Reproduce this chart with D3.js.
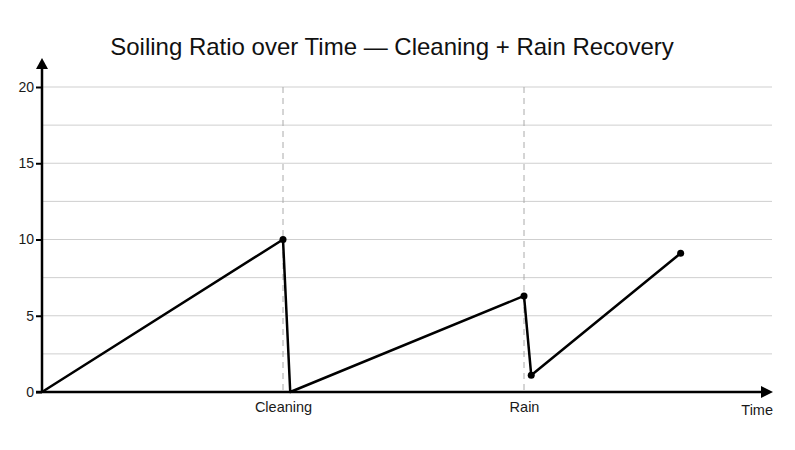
<!DOCTYPE html>
<html><head><meta charset="utf-8">
<script src="https://cdn.jsdelivr.net/npm/d3@7"></script>
<style>body{margin:0;background:#fff}svg{display:block}text{font-family:"Liberation Sans",Arial,sans-serif}</style>
</head><body><svg id="c" width="795" height="450"></svg>
<script>
const times = [0, 10, 10.3, 20, 20.3, 26.5];
const ratios = [0, 10, 0, 6.3, 1.1, 9.1];
const markedIdx = [1, 3, 4, 5];
const events = [{t:10, label:"Cleaning"}, {t:20, label:"Rain"}];
const yTicks = [0, 5, 10, 15, 20];
const yGrid = [2.5, 5, 7.5, 10, 12.5, 15, 17.5, 20];
const title = "Soiling Ratio over Time — Cleaning + Rain Recovery";

const svg = d3.select("#c");
const x = d3.scaleLinear().domain([0, 30]).range([42, 765]);
const y = d3.scaleLinear().domain([0, 20]).range([392, 87]);
const data = times.map((t,i)=>({t, v: ratios[i]}));

// grid
svg.append("g").selectAll("line").data(yGrid).join("line")
  .attr("x1", 42).attr("x2", 772).attr("y1", d=>y(d)).attr("y2", d=>y(d))
  .attr("stroke", "#cfcfcf").attr("stroke-width", 1);

// event dashed lines
svg.append("g").selectAll("line").data(events).join("line")
  .attr("x1", d=>x(d.t)).attr("x2", d=>x(d.t)).attr("y1", y(20)).attr("y2", y(0))
  .attr("stroke", "#aaa").attr("stroke-width", 1).attr("stroke-dasharray", "6,5");

// y axis
const yAxis = d3.axisLeft(y).tickValues(yTicks).tickSize(6).tickFormat(d3.format("d"));
const gy = svg.append("g").attr("transform", "translate(42,0)").call(yAxis);
gy.select(".domain").remove();
gy.selectAll(".tick line").attr("stroke", "#000").attr("stroke-width", 2);
gy.selectAll(".tick text").attr("font-size", 14).attr("fill", "#1a1a1a").attr("x", -8);

// x axis labels
const gx = svg.append("g").attr("transform", `translate(0,${y(0)})`)
  .call(d3.axisBottom(x).tickValues(events.map(e=>e.t)).tickSize(0)
    .tickFormat((d,i)=>events[i].label));
gx.select(".domain").remove();
gx.selectAll(".tick text").attr("font-size", 14.5).attr("fill", "#1a1a1a").attr("dy", "1.2em");

// axis lines with arrows
svg.append("line").attr("x1", 42).attr("x2", 42).attr("y1", y(0)+1).attr("y2", 68)
  .attr("stroke", "#000").attr("stroke-width", 2.5);
svg.append("path").attr("d", "M42,58 L36,69 L48,69 Z").attr("fill", "#000");
svg.append("line").attr("x1", 36).attr("x2", 762).attr("y1", y(0)).attr("y2", y(0))
  .attr("stroke", "#000").attr("stroke-width", 2.5);
svg.append("path").attr("d", `M773,${y(0)} L761,${y(0)-6} L761,${y(0)+6} Z`).attr("fill", "#000");
svg.append("text").attr("x", 773).attr("y", 415).attr("text-anchor", "end")
  .attr("font-size", 14.5).attr("fill", "#1a1a1a").text("Time");

// line
svg.append("path").datum(data)
  .attr("d", d3.line().x(d=>x(d.t)).y(d=>y(d.v)))
  .attr("fill", "none").attr("stroke", "#000").attr("stroke-width", 2.5).attr("stroke-linejoin", "round");

svg.append("g").selectAll("circle").data(markedIdx.map(i=>data[i])).join("circle")
  .attr("cx", d=>x(d.t)).attr("cy", d=>y(d.v)).attr("r", 3.5).attr("fill", "#000");

svg.append("text").attr("x", 392).attr("y", 55).attr("text-anchor", "middle")
  .attr("font-size", 24).attr("fill", "#111").text(title);
</script></body></html>
